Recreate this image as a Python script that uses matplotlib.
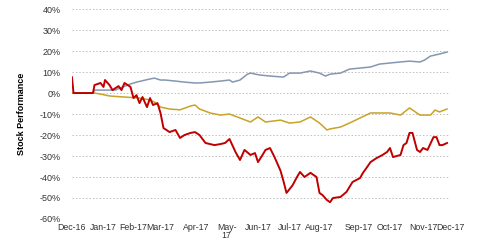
import matplotlib
matplotlib.use("Agg")
import matplotlib.pyplot as plt
from matplotlib.ticker import FuncFormatter

# Month tick labels and their trading-day positions
tick_labels = ["Dec-16", "Jan-17", "Feb-17", "Mar-17", "Apr-17", "May-\n17", "Jun-17",
               "Jul-17", "Aug-17", "Sep-17", "Oct-17", "Nov-17", "Dec-17"]
tick_days = [0, 21, 41, 59, 83, 103, 124, 145, 165, 191, 212, 234, 252]

# Blue-gray series
blue_days = [0, 14, 15, 22, 29, 32, 34, 39, 43, 49, 52, 55, 59, 62, 69, 75, 82, 85, 92, 99,
             105, 107, 112, 117, 119, 125, 132, 141, 145, 152, 159, 165, 169, 172, 179, 185,
             192, 199, 205, 212, 219, 225, 232, 235, 239, 245, 250]
blue_vals = [0, 0, 1.4, 1.4, 1.4, 2.4, 2.9, 4.3, 5.2, 6.2, 6.7, 7.1, 6.2, 6.2, 5.7, 5.2, 4.8,
             4.8, 5.2, 5.7, 6.2, 5.2, 6.2, 9.0, 9.5, 8.6, 8.1, 7.6, 9.5, 9.5, 10.5, 9.5, 8.1,
             9.0, 9.5, 11.4, 11.9, 12.4, 13.8, 14.3, 14.8, 15.2, 14.8, 15.7, 17.6, 18.6, 19.5]

# Gold series
gold_days = [0, 14, 15, 19, 25, 35, 45, 52, 55, 59, 65, 72, 79, 82, 85, 92, 99, 105, 112,
             119, 124, 129, 139, 145, 152, 159, 165, 170, 172, 179, 185, 192, 199, 205, 212,
             219, 225, 232, 239, 242, 245, 250]
gold_vals = [0, 0, 0, -0.5, -1.4, -1.9, -2.4, -3.3, -4.3, -6.7, -7.6, -8.0, -6.2, -5.7, -7.6,
             -9.5, -10.5, -10.0, -11.9, -13.8, -11.4, -13.8, -12.9, -14.3, -13.8, -11.4, -14.3,
             -17.6, -17.1, -16.2, -14.3, -11.9, -9.5, -9.5, -9.5, -10.5, -7.1, -10.5, -10.5,
             -8.1, -9.0, -7.6]

# Dark red series
red_days = [0, 1, 14, 15, 19, 21, 22, 25, 27, 31, 33, 35, 39, 41, 43, 45, 47, 50, 52, 54, 57,
            59, 61, 63, 65, 69, 72, 75, 79, 82, 85, 89, 92, 95, 99, 102, 105, 109, 112, 115,
            119, 122, 124, 127, 129, 132, 135, 139, 141, 143, 147, 150, 152, 155, 159, 161,
            163, 165, 167, 170, 172, 174, 179, 183, 187, 192, 194, 197, 199, 203, 207, 210,
            212, 214, 219, 221, 223, 225, 227, 230, 232, 234, 237, 241, 243, 245, 247, 250]
red_vals = [7.5, 0, 0, 3.8, 4.8, 2.9, 6.2, 3.8, 1.4, 3.3, 1.4, 4.8, 2.9, -2.4, -1.0, -4.8,
            -1.9, -6.7, -2.4, -5.7, -4.8, -9.5, -16.7, -17.6, -18.6, -17.6, -21.4, -20.0,
            -19.0, -18.6, -20.0, -23.8, -24.3, -24.8, -24.3, -23.8, -21.9, -28.1, -31.9,
            -27.1, -29.5, -28.6, -32.9, -29.5, -27.1, -26.2, -30.5, -37.0, -42.0, -47.6,
            -44.0, -40.0, -37.6, -40.0, -38.0, -39.0, -40.0, -47.6, -48.6, -51.0, -52.0,
            -50.0, -49.5, -47.1, -42.4, -40.5, -38.0, -35.0, -32.9, -31.0, -29.5, -28.1,
            -26.2, -30.5, -29.5, -24.8, -23.8, -19.0, -19.0, -27.1, -28.1, -26.2, -27.1,
            -21.0, -21.0, -24.8, -24.8, -23.8]

y_ticks = [-60, -50, -40, -30, -20, -10, 0, 10, 20, 30, 40]

plt.rcParams['font.family'] = ['Liberation Sans', 'DejaVu Sans']

fig = plt.figure(figsize=(4.8, 2.52), dpi=100)
ax = fig.add_axes([0.15, 0.131, 0.7875, 0.833])

ax.plot(blue_days, blue_vals, color="#8497B0", lw=1.1)
ax.plot(gold_days, gold_vals, color="#C9A227", lw=1.1)
ax.plot(red_days, red_vals, color="#C00000", lw=1.4)

ax.set_xlim(0, 252)
ax.set_ylim(-60, 40)
ax.set_yticks(y_ticks)
ax.yaxis.set_major_formatter(FuncFormatter(lambda v, p: f"{int(v)}%"))
ax.set_xticks(tick_days)
ax.set_xticklabels(tick_labels, fontsize=6.3, color="#333333", linespacing=0.9)
ax.tick_params(axis='y', labelsize=6.5, labelcolor="#333333", length=0, pad=8)
ax.tick_params(axis='x', length=0, pad=3)
ax.grid(axis='y', color="#BFBFBF", linestyle=(0, (1.5, 2)), linewidth=0.7)
ax.set_axisbelow(True)
for s in ax.spines.values():
    s.set_visible(False)

fig.text(0.045, 0.55, "Stock Performance", rotation=90, fontsize=6.5, fontweight='bold',
         ha='center', va='center', color="#000000")

fig.savefig("out.png", dpi=100)
